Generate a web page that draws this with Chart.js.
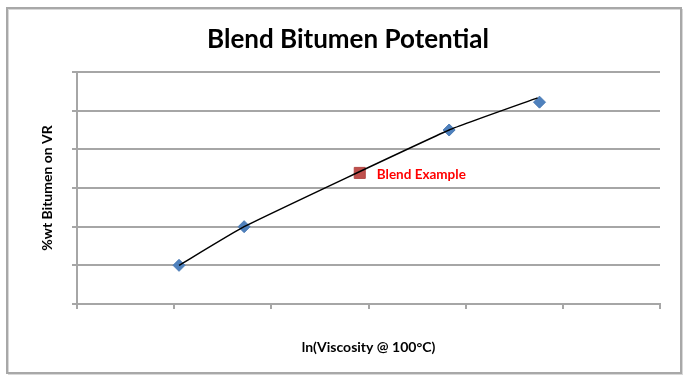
<!DOCTYPE html>
<html>
<head>
<meta charset="utf-8">
<script src="https://cdn.jsdelivr.net/npm/chart.js@4"></script>
<style>
html,body{margin:0;padding:0;background:#fff;}
#wrap{width:696px;height:387px;position:relative;}
</style>
</head>
<body>
<div id="wrap"><canvas id="c" width="696" height="387"></canvas></div>
<script>
const titleText = "Blend Bitumen Potential";
const xTitle = "ln(Viscosity @ 100°C)";
const yTitle = "%wt Bitumen on VR";
const sampleX = [1.05, 1.72, 3.83, 4.76];
const sampleY = [1.0, 2.0, 4.5, 5.22];
const trendX = [1.05, 1.72, 3.83, 4.74];
const trendY = [1.0, 2.0, 4.5, 5.33];
const blendX = [2.91];
const blendY = [3.39];
const blendLabel = "Blend Example";
const xMin = 0, xMax = 6, yMin = 0, yMax = 6;

const toXY = (xs, ys) => xs.map((x, i) => ({x: x, y: ys[i]}));
const FONT = "Lato, 'Open Sans', sans-serif";
const GRID = '#a6a6a6';

const framePlugin = {
  id: 'frame',
  beforeDraw(chart) {
    const ctx = chart.ctx;
    ctx.save();
    ctx.fillStyle = '#fff';
    ctx.fillRect(0, 0, chart.width, chart.height);
    ctx.strokeStyle = '#d8d8d8';
    ctx.lineWidth = 1;
    ctx.strokeRect(8.5, 9.5, 674, 365);
    ctx.strokeStyle = '#a8a8a8';
    ctx.lineWidth = 2;
    ctx.strokeRect(7, 8, 674, 365);
    ctx.restore();
  },
  afterDatasetsDraw(chart) {
    const meta = chart.getDatasetMeta(2);
    const ctx = chart.ctx;
    ctx.save();
    ctx.fillStyle = '#ff0000';
    ctx.font = "bold 13.5px " + FONT;
    ctx.textBaseline = 'middle';
    meta.data.forEach(pt => {
      ctx.fillText(blendLabel, pt.x + 17, pt.y + 2);
    });
    ctx.restore();
  }
};

new Chart(document.getElementById('c'), {
  type: 'scatter',
  data: {
    datasets: [
      {
        label: 'Trend',
        type: 'line',
        data: toXY(trendX, trendY),
        borderColor: '#000',
        borderWidth: 1.5,
        pointRadius: 0,
        tension: 0.12,
        fill: false
      },
      {
        label: 'Samples',
        data: toXY(sampleX, sampleY),
        pointStyle: 'rectRot',
        pointRadius: 6,
        backgroundColor: '#4f81bd',
        borderColor: '#4a7ab5',
        borderWidth: 1
      },
      {
        label: blendLabel,
        data: toXY(blendX, blendY),
        pointStyle: 'rect',
        pointRadius: 7.8,
        backgroundColor: '#c0504d',
        borderColor: '#b54a47',
        borderWidth: 1
      }
    ]
  },
  options: {
    responsive: false,
    animation: false,
    events: [],
    layout: { padding: 0 },
    plugins: {
      legend: { display: false },
      tooltip: { enabled: false },
      title: {
        display: true,
        text: titleText,
        color: '#000',
        font: { family: FONT, size: 26, weight: 'bold', lineHeight: 1.2 },
        padding: { top: 24, bottom: 16.8 }
      }
    },
    scales: {
      x: {
        type: 'linear',
        min: xMin, max: xMax,
        ticks: { display: false, stepSize: 1 },
        grid: { drawOnChartArea: false, drawTicks: true, tickLength: 5, color: GRID, lineWidth: 2 },
        border: { display: true, color: GRID, width: 2 },
        title: {
          display: true, text: xTitle, color: '#000',
          font: { family: FONT, size: 14, weight: 'bold', lineHeight: 1.2 },
          padding: { top: 0, bottom: 31 }
        },
        afterFit(scale) { scale.height = 83; }
      },
      y: {
        type: 'linear',
        min: yMin, max: yMax,
        ticks: { display: false, stepSize: 1 },
        grid: { drawOnChartArea: true, drawTicks: true, tickLength: 5, color: GRID, lineWidth: 2 },
        border: { display: true, color: GRID, width: 2 },
        title: {
          display: true, text: yTitle, color: '#000',
          font: { family: FONT, size: 14, weight: 'bold', lineHeight: 1.2 },
          padding: { top: 39, bottom: 0 }
        },
        afterFit(scale) { scale.width = 77; }
      },
      spacer: {
        type: 'linear',
        position: 'right',
        min: 0, max: 1,
        ticks: { display: false },
        grid: { display: false, drawTicks: false },
        border: { display: false },
        afterFit(scale) { scale.width = 36; }
      }
    }
  },
  plugins: [framePlugin]
});
</script>
</body>
</html>
